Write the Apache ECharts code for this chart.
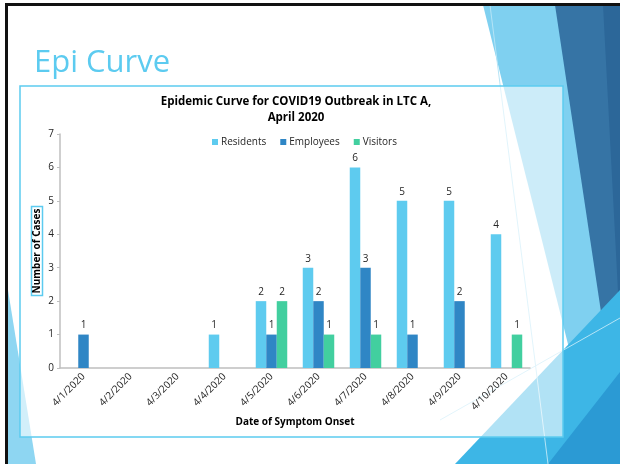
<!DOCTYPE html>
<html>
<head>
<meta charset="utf-8">
<script src="https://cdn.jsdelivr.net/npm/echarts@6/dist/echarts.min.js"></script>
<style>
  html, body { margin: 0; padding: 0; background: #fff; }
  #chart { width: 620px; height: 464px; }
</style>
</head>
<body>
<div id="chart"></div>
<script>
const dates = ['4/1/2020', '4/2/2020', '4/3/2020', '4/4/2020', '4/5/2020', '4/6/2020', '4/7/2020', '4/8/2020', '4/9/2020', '4/10/2020']
const residents = [0, 0, 0, 1, 2, 3, 6, 5, 5, 4]
const employees = [1, 0, 0, 0, 1, 2, 3, 1, 2, 0]
const visitors = [0, 0, 0, 0, 2, 1, 1, 0, 0, 1]
const yTicks = [0, 1, 2, 3, 4, 5, 6, 7]

const FONT = '"Open Sans", sans-serif'
const TEXT_COLOR = '#262626'
const AXIS_COLOR = '#bfbfbf'

// slide decoration (Facet-like theme shapes), drawn behind the chart
function poly (points, fill, z) {
  return { type: 'polygon', shape: { points }, style: { fill }, z, silent: true }
}
function line (x1, y1, x2, y2, stroke, width, z) {
  return { type: 'line', shape: { x1, y1, x2, y2 }, style: { stroke, lineWidth: width }, z, silent: true }
}

const decor = [
  poly([[483, 5], [620, 5], [620, 464], [598, 464]], '#7fd0f0', -20),
  poly([[555, 5], [620, 5], [620, 350], [610, 372]], '#3674a5', -19),
  poly([[603, 5], [620, 5], [620, 330]], '#2c6799', -18),
  poly([[455, 464], [620, 290], [620, 464]], '#3db6e6', -17),
  poly([[548, 464], [620, 372], [620, 464]], '#2b9ad4', -16),
  poly([[8, 290], [8, 464], [36, 464]], '#8ed6f2', -15),
  line(490, 5, 548, 464, '#b5e4f6', 1, -14),
  line(440, 420, 620, 318, '#b5e4f6', 1, -14),
  // chart frame
  {
    type: 'rect',
    shape: { x: 20, y: 86, width: 543, height: 351 },
    style: { fill: 'rgba(255,255,255,0.6)', stroke: '#5ccbf0', lineWidth: 1.5 },
    z: -10,
    silent: true
  },
  // slide border
  line(5, 4.5, 620, 4.5, '#111', 3, 10),
  line(6.5, 3, 6.5, 464, '#111', 3, 10),
  {
    type: 'text',
    x: 34,
    y: 48,
    style: { text: 'Epi Curve', fill: '#5ccbf0', font: '31px "Open Sans", sans-serif' },
    z: 10,
    silent: true
  },
  // axis titles (placed by hand, axis name gap gets pushed by the labels)
  {
    type: 'text',
    x: 37,
    y: 251,
    rotation: Math.PI / 2,
    style: {
      text: 'Number of Cases',
      fill: '#000',
      font: 'bold 10px "Open Sans", sans-serif',
      align: 'center',
      verticalAlign: 'middle',
      borderColor: '#5ccbf0',
      borderWidth: 1.5,
      padding: [1, 2, 0, 2]
    },
    z: 10,
    silent: true
  },
  {
    type: 'text',
    x: 295,
    y: 422,
    style: {
      text: 'Date of Symptom Onset',
      fill: '#000',
      font: 'bold 10px "Open Sans", sans-serif',
      align: 'center',
      verticalAlign: 'middle'
    },
    z: 10,
    silent: true
  }
]

const valueLabel = {
  show: true,
  position: 'top',
  distance: 4,
  color: TEXT_COLOR,
  fontFamily: FONT,
  fontSize: 10,
  formatter: p => (p.value ? String(p.value) : '')
}

function barSeries (name, data, color) {
  return {
    name,
    type: 'bar',
    data,
    barGap: '0%',
    barCategoryGap: '33%',
    itemStyle: { color },
    label: valueLabel
  }
}

const chart = echarts.init(document.getElementById('chart'), null, { renderer: 'canvas' })

chart.setOption({
  animation: false,
  backgroundColor: '#fff',
  graphic: decor,
  title: {
    text: 'Epidemic Curve for COVID19 Outbreak in LTC A,\nApril 2020',
    left: 291,
    top: 89,
    textAlign: 'center',
    textStyle: { fontFamily: FONT, fontSize: 11.5, fontWeight: 'bold', color: '#000', lineHeight: 16 }
  },
  legend: {
    top: 132,
    left: 207,
    itemWidth: 6,
    itemHeight: 6,
    itemGap: 14,
    icon: 'rect',
    textStyle: { fontFamily: FONT, fontSize: 10, color: TEXT_COLOR, padding: [0, 0, 0, -2] },
    data: ['Residents', 'Employees', 'Visitors']
  },
  grid: { left: 60, right: 90, top: 134, bottom: 96 },
  xAxis: {
    type: 'category',
    data: dates,
    axisLine: { lineStyle: { color: AXIS_COLOR, width: 1.5 } },
    axisTick: { alignWithLabel: false, length: 4, lineStyle: { color: AXIS_COLOR } },
    axisLabel: {
      rotate: 45,
      margin: 7,
      color: TEXT_COLOR,
      fontFamily: FONT,
      fontSize: 10,
      interval: 0
    }
  },
  yAxis: {
    type: 'value',
    min: yTicks[0],
    max: yTicks[yTicks.length - 1],
    interval: 1,
    axisLine: { show: true, lineStyle: { color: AXIS_COLOR, width: 1.5 } },
    axisTick: { show: true, length: 3, lineStyle: { color: AXIS_COLOR } },
    splitLine: { show: false },
    axisLabel: { margin: 6, color: TEXT_COLOR, fontFamily: FONT, fontSize: 10 }
  },
  series: [
    barSeries('Residents', residents, '#5ecbef'),
    barSeries('Employees', employees, '#2f86c5'),
    barSeries('Visitors', visitors, '#42cf9f')
  ]
})
</script>
</body>
</html>
